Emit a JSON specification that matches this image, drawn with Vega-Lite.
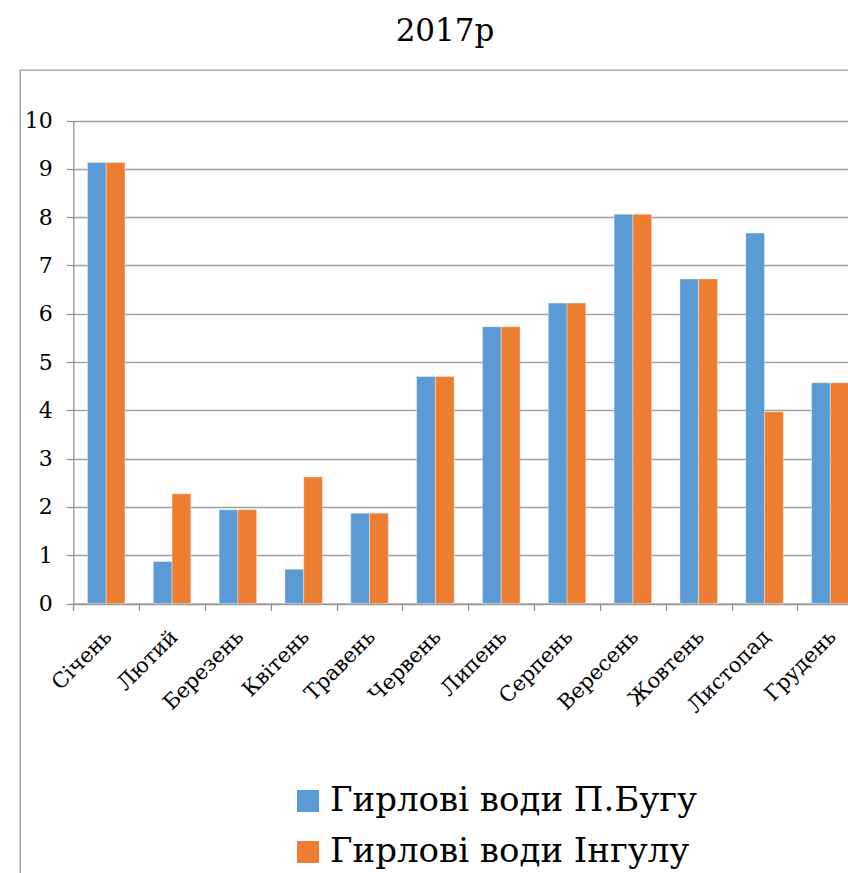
{
  "$schema": "https://vega.github.io/schema/vega-lite/v6.json",
  "autosize": {"type": "none"},
  "padding": {"left": 20, "top": 70, "right": -22, "bottom": -27},
  "width": 850,
  "height": 830,
  "background": "white",
  "title": {
    "text": "2017р",
    "font": "DejaVu Serif",
    "fontSize": 31,
    "fontWeight": "normal",
    "color": "#000000",
    "anchor": "middle",
    "frame": "group",
    "baseline": "alphabetic",
    "offset": -2
  },
  "data": {
    "values": [
      {"month": "Січень", "series": "Гирлові води П.Бугу", "value": 9.13},
      {"month": "Січень", "series": "Гирлові води Інгулу", "value": 9.13},
      {"month": "Лютий", "series": "Гирлові води П.Бугу", "value": 0.87},
      {"month": "Лютий", "series": "Гирлові води Інгулу", "value": 2.27},
      {"month": "Березень", "series": "Гирлові води П.Бугу", "value": 1.94},
      {"month": "Березень", "series": "Гирлові води Інгулу", "value": 1.94},
      {"month": "Квітень", "series": "Гирлові води П.Бугу", "value": 0.71},
      {"month": "Квітень", "series": "Гирлові води Інгулу", "value": 2.62},
      {"month": "Травень", "series": "Гирлові води П.Бугу", "value": 1.87},
      {"month": "Травень", "series": "Гирлові води Інгулу", "value": 1.87},
      {"month": "Червень", "series": "Гирлові води П.Бугу", "value": 4.70},
      {"month": "Червень", "series": "Гирлові води Інгулу", "value": 4.70},
      {"month": "Липень", "series": "Гирлові води П.Бугу", "value": 5.73},
      {"month": "Липень", "series": "Гирлові води Інгулу", "value": 5.73},
      {"month": "Серпень", "series": "Гирлові води П.Бугу", "value": 6.22},
      {"month": "Серпень", "series": "Гирлові води Інгулу", "value": 6.22},
      {"month": "Вересень", "series": "Гирлові води П.Бугу", "value": 8.06},
      {"month": "Вересень", "series": "Гирлові води Інгулу", "value": 8.06},
      {"month": "Жовтень", "series": "Гирлові води П.Бугу", "value": 6.72},
      {"month": "Жовтень", "series": "Гирлові води Інгулу", "value": 6.72},
      {"month": "Листопад", "series": "Гирлові води П.Бугу", "value": 7.67},
      {"month": "Листопад", "series": "Гирлові води Інгулу", "value": 3.97},
      {"month": "Грудень", "series": "Гирлові води П.Бугу", "value": 4.57},
      {"month": "Грудень", "series": "Гирлові води Інгулу", "value": 4.57}
    ]
  },
  "mark": {"type": "bar", "stroke": "#ffffff", "strokeWidth": 0.6, "strokeOpacity": 0.6},
  "encoding": {
    "x": {
      "field": "month",
      "type": "nominal",
      "sort": ["Січень", "Лютий", "Березень", "Квітень", "Травень", "Червень", "Липень", "Серпень", "Вересень", "Жовтень", "Листопад", "Грудень"],
      "scale": {"range": [53.3, 843.3], "paddingInner": 0, "paddingOuter": 0},
      "axis": {
        "title": null,
        "offset": -296.5,
        "tickBand": "extent",
        "grid": false,
        "domainColor": "#8c8c8c",
        "domainWidth": 1.2,
        "tickColor": "#8c8c8c",
        "tickWidth": 1.2,
        "tickSize": 7,
        "labelAngle": -45,
        "labelAlign": "right",
        "labelBaseline": "middle",
        "labelFont": "DejaVu Serif",
        "labelFontSize": 21,
        "labelColor": "#000000",
        "labelPadding": 23,
        "labelOffset": 2
      }
    },
    "xOffset": {
      "field": "series",
      "type": "nominal",
      "sort": ["Гирлові води П.Бугу", "Гирлові води Інгулу"],
      "scale": {"paddingInner": 0, "paddingOuter": 0.7545}
    },
    "y": {
      "field": "value",
      "type": "quantitative",
      "scale": {"domain": [0, 10], "range": [533.5, 50.5], "nice": false, "zero": true},
      "axis": {
        "title": null,
        "offset": -53.3,
        "values": [0, 1, 2, 3, 4, 5, 6, 7, 8, 9, 10],
        "format": "d",
        "grid": true,
        "gridColor": "#a0a0a0",
        "gridWidth": 1.3,
        "domainColor": "#8c8c8c",
        "domainWidth": 1.2,
        "tickColor": "#8c8c8c",
        "tickWidth": 1.2,
        "tickSize": 7,
        "labelFont": "DejaVu Serif",
        "labelFontSize": 22,
        "labelColor": "#000000",
        "labelPadding": 14
      }
    },
    "color": {
      "field": "series",
      "type": "nominal",
      "sort": ["Гирлові води П.Бугу", "Гирлові води Інгулу"],
      "scale": {"domain": ["Гирлові води П.Бугу", "Гирлові води Інгулу"], "range": ["#5b9bd5", "#ed7d31"]},
      "legend": {
        "title": null,
        "orient": "none",
        "legendX": 271,
        "legendY": 714,
        "padding": 0,
        "direction": "vertical",
        "symbolType": "square",
        "symbolSize": 484,
        "symbolStrokeWidth": 0,
        "labelFont": "DejaVu Serif",
        "labelFontSize": 34,
        "labelColor": "#000000",
        "labelLimit": 1000,
        "labelOffset": 5,
        "rowPadding": 17
      }
    }
  },
  "config": {
    "view": {"stroke": "#999999", "strokeWidth": 1.3}
  }
}
